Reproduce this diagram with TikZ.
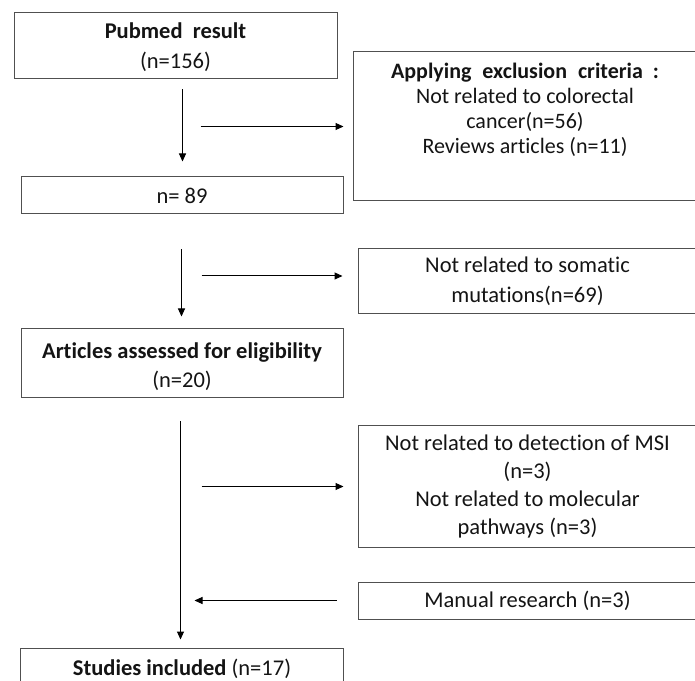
\documentclass[tikz,border=0pt]{standalone}
\usepackage{fontspec}
\setmainfont[Ligatures=NoCommon]{Carlito}
\usetikzlibrary{arrows.meta}
\definecolor{boxgray}{RGB}{80,80,80}
\definecolor{txt}{RGB}{20,20,20}
\begin{document}
\begin{tikzpicture}[x=1pt,y=1pt,
  box/.style={draw=boxgray, line width=1pt, rectangle, inner sep=0pt, align=center,
    text=txt, font=\fontsize{22.5}{27}\selectfont},
  lbl/.style={anchor=north, inner sep=0pt, align=center, text=txt},
  arr/.style={draw=black, line width=1pt, -{Triangle[length=8pt,width=7pt]}}]
\useasboundingbox (0,0) rectangle (695,680);
\clip (0,0) rectangle (695,680);

% left column
\node[box, minimum width=323pt, minimum height=66pt] (pub) at (175.5,634)
  {\rule{0pt}{19pt}\textbf{Pubmed\ \ result}\\[3pt](n=156)};
\node[box, minimum width=322pt, minimum height=37pt] (n89) at (182,484.5) {n= 89};
\node[box, minimum width=322pt, minimum height=69pt] (elig) at (182,316.5)
  {\rule{0pt}{23pt}\textbf{Articles assessed for eligibility}\\[2pt](n=20)};
\node[box, minimum width=323pt, minimum height=42pt] (stud) at (182,11)
  {\textbf{Studies included} (n=17)};

% right column
\node[box, minimum width=344pt, minimum height=149pt,
  label={[lbl, font=\fontsize{22}{25}\selectfont, yshift=-11pt]north:\textbf{Applying\hspace{6pt} exclusion\hspace{6pt} criteria\hspace{5pt} :}\\Not related to colorectal\\cancer(n=56)\\Reviews articles (n=11)}]
  (excl) at (525,553.5) {};
\node[box, minimum width=339pt, minimum height=65pt] (som) at (527.5,398.5)
  {Not related to somatic\\[3pt]mutations(n=69)};
\node[box, minimum width=339pt, minimum height=121pt, font=\fontsize{22.5}{27.7}\selectfont] (msi) at (527.5,193.5)
  {Not related to detection of MSI\\(n=3)\\Not related to molecular\\pathways (n=3)};
\node[box, minimum width=339pt, minimum height=37pt] (man) at (527.5,79.5) {Manual research (n=3)};

% connectors
\draw[arr] ([xshift=0.5pt,yshift=-10pt]pub.south -| n89.north) -- ([xshift=0.5pt,yshift=15pt]n89.north);
\draw[arr] ([xshift=-152pt]excl.west) -- ([xshift=-9pt]excl.west);
\draw[arr] ([xshift=-0.5pt,yshift=-35pt]n89.south -| elig.north) -- ([xshift=-0.5pt,yshift=12pt]elig.north);
\draw[arr] ([xshift=-156pt,yshift=5.5pt]som.west) -- ([xshift=-15pt,yshift=5.5pt]som.west);
\draw[arr] ([xshift=-1.5pt,yshift=-23pt]elig.south) -- ([xshift=-1.5pt,yshift=8pt]stud.north);
\draw[arr] ([xshift=-156pt]msi.west) -- ([xshift=-14pt]msi.west);
\draw[arr] ([xshift=-21pt]man.west) -- ([xshift=-163pt]man.west);
\end{tikzpicture}
\end{document}
